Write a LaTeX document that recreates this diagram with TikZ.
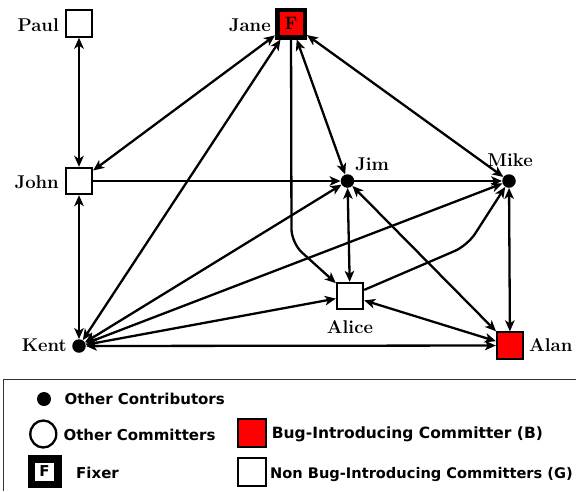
\documentclass[tikz,border=0pt]{standalone}
\usepackage{fontspec}
\newfontfamily\legendfont{DejaVu Sans}
\usetikzlibrary{arrows.meta,shapes.geometric}
\begin{document}
\begin{tikzpicture}[x=1pt,y=-1pt,
  >={Stealth[length=11pt,width=9.5pt,inset=3pt]},
  sq/.style={draw, line width=1.8pt, minimum size=26.5pt, inner sep=0pt},
  dot/.style={circle, fill=black, inner sep=0pt, minimum size=13.5pt},
  lbl/.style={font=\fontsize{18.5}{20}\selectfont\bfseries, inner sep=0pt},
  bi/.style={line width=2.3pt, <->},
  fwd/.style={line width=2.3pt, ->},
  lgfont/.style={font=\legendfont\fontsize{15}{18}\selectfont\bfseries},
  lgtext/.style={lgfont, inner sep=0pt, anchor=base west},
  lgsq/.style={draw, line width=1.6pt, minimum width=28pt, minimum height=28pt, inner sep=0pt}
]
\useasboundingbox (0,0) rectangle (576,491);
% nodes
\node[sq] (paul) at (79,23.5) {};
\node[sq, line width=4.5pt, minimum size=27.5pt, fill=red, font=\fontsize{18}{20}\selectfont\bfseries] (jane) at (291,23.5) {F};
\node[sq] (john) at (79,181) {};
\node[dot] (jim) at (347.5,181) {};
\node[dot] (mike) at (509,181) {};
\node[sq, fill=white] (alice) at (350,296) {};
\node[dot] (kent) at (79,346) {};
\node[sq, fill=red] (alan) at (510,345.5) {};
% labels
\node[lbl, anchor=base east] (paullbl) at (59,31) {Paul};
\node[lbl, anchor=base east] (janelbl) at (271,31) {Jane};
\node[lbl, anchor=base east] (johnlbl) at (59,188) {John};
\node[lbl, anchor=base west] (jimlbl) at (355,170) {Jim};
\node[lbl, anchor=base] (mikelbl) at (510,166) {Mike};
\node[lbl, anchor=base east] (kentlbl) at (67,351.5) {Kent};
\node[lbl, anchor=base] (alicelbl) at (350,333) {Alice};
\node[lbl, anchor=base west] (alanlbl) at (529,351.5) {Alan};
% corner coordinates
\coordinate (c1) at (291.5,243);
\coordinate (c2) at (467.5,245.5);
% edges
\draw[bi] (paul) -- (john);
\draw[bi] (jane) -- (john);
\draw[bi] (kent) -- (john);
\draw[bi] (kent) -- (jane);
\draw[bi] (kent) -- (jim);
\draw[bi] (kent) -- (mike);
\draw[bi] (kent) -- (alice);
\draw[bi] (kent) -- (alan);
\draw[fwd] (john) -- (jim);
\draw[fwd] (jim) -- (mike);
\draw[bi] (jane) -- (jim);
\draw[bi] (jane) -- (mike);
\draw[bi] (jim) -- (alice);
\draw[bi] (jim) -- (alan);
\draw[bi] (mike) -- (alan);
\draw[bi] (alice) -- (alan);
\draw[fwd, rounded corners=14pt] (jane) -- (c1) -- (alice);
\draw[fwd, rounded corners=14pt] (alice) -- (c2) -- (mike);
% legend
\draw[line width=1.3pt, draw=black!80] (576,379.3) -| (3.3,491);
\node[dot, minimum size=14pt] (lgdot) at (44,399) {};
\node[lgtext] (lgdottxt) at (64.3,404.3) {Other Contributors};
\node[ellipse, draw, line width=2.3pt, minimum width=26pt, minimum height=27pt, inner sep=0pt] (lgcirc) at (43.3,434) {};
\node[lgtext] (lgcirctxt) at (63.3,440) {Other Committers};
\node[lgsq, fill=red] (lgred) at (251.7,433) {};
\node[lgtext, font=\legendfont\fontsize{15.5}{18}\selectfont\bfseries] (lgredtxt) at (271.7,438.3) {Bug-Introducing Committer (B)};
\node[draw, line width=7.5pt, minimum width=26.5pt, minimum height=25.5pt, inner sep=0pt, lgfont] (lgfix) at (44.5,471.5) {F};
\node[lgtext] (lgfixtxt) at (76,478.3) {Fixer};
\node[lgsq] (lgwhite) at (251.7,472) {};
\node[lgtext, font=\legendfont\fontsize{14.6}{18}\selectfont\bfseries] (lgwhitetxt) at (270,478.3) {Non Bug-Introducing Committers (G)};
\end{tikzpicture}
\end{document}
